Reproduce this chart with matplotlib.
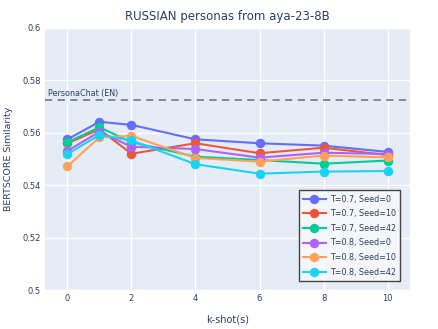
import matplotlib
matplotlib.use("Agg")
import matplotlib.pyplot as plt

k_shots = [0, 1, 2, 4, 6, 8, 10]
series_labels = ["T=0.7, Seed=0", "T=0.7, Seed=10", "T=0.7, Seed=42",
                 "T=0.8, Seed=0", "T=0.8, Seed=10", "T=0.8, Seed=42"]
t07_s0 = [0.5575, 0.5642, 0.5630, 0.5575, 0.5560, 0.5551, 0.5527]
t07_s10 = [0.5560, 0.5613, 0.5520, 0.5560, 0.5522, 0.5543, 0.5515]
t07_s42 = [0.5564, 0.5621, 0.5564, 0.5509, 0.5496, 0.5482, 0.5494]
t08_s0 = [0.5531, 0.5604, 0.5547, 0.5538, 0.5505, 0.5524, 0.5519]
t08_s10 = [0.5472, 0.5583, 0.5588, 0.5504, 0.5490, 0.5513, 0.5506]
t08_s42 = [0.5519, 0.5592, 0.5571, 0.5480, 0.5444, 0.5452, 0.5454]
baseline = 0.5725
baseline_label = "PersonaChat (EN)"
y_ticks = [0.5, 0.52, 0.54, 0.56, 0.58, 0.6]
y_tick_labels = ["0.5", "0.52", "0.54", "0.56", "0.58", "0.6"]
x_ticks = [0, 2, 4, 6, 8, 10]

colors = ["#636EFA", "#EF553B", "#00CC96", "#AB63FA", "#FFA15A", "#19D3F3"]
text_color = "#2a3f5f"

fig = plt.figure(figsize=(4.39, 3.29), dpi=100)
ax = fig.add_axes([0.1025, 0.1185, 0.8315, 0.7965])
ax.set_facecolor("#E5ECF6")
for s in ax.spines.values():
    s.set_visible(False)

ax.set_xlim(-0.7, 10.7)
ax.set_ylim(0.5, 0.6)
ax.set_xticks(x_ticks)
ax.set_yticks(y_ticks)
ax.set_yticklabels(y_tick_labels)
ax.grid(True, color="white", linewidth=1.0)
ax.set_axisbelow(True)
ax.tick_params(length=0, labelsize=6, colors=text_color, pad=3)

ax.axhline(baseline, color="#7f7f7f", linestyle=(0, (4, 3)), linewidth=1.3, zorder=1)
ax.text(-0.6, baseline + 0.0008, baseline_label, fontsize=5.8, color=text_color,
        va="bottom", ha="left")

all_series = [t07_s0, t07_s10, t07_s42, t08_s0, t08_s10, t08_s42]
for vals, lab, c in zip(all_series, series_labels, colors):
    ax.plot(k_shots, vals, color=c, linewidth=1.5, marker="o", markersize=5.8,
            label=lab, zorder=3)

leg = ax.legend(loc="lower right", bbox_to_anchor=(0.983, 0.02), fontsize=5.8,
                frameon=True, fancybox=False, borderpad=0.5, labelspacing=0.7,
                handlelength=2.8, handletextpad=0.5)
leg.get_frame().set_edgecolor("#444444")
leg.get_frame().set_linewidth(1.0)
leg.get_frame().set_facecolor("#F4F6FA")
leg.get_frame().set_alpha(1.0)
for t in leg.get_texts():
    t.set_color(text_color)

ax.set_title("RUSSIAN personas from aya-23-8B", fontsize=8.5, color=text_color, pad=6)
ax.set_xlabel("k-shot(s)", fontsize=7, color=text_color, labelpad=8)
ax.set_ylabel("BERTSCORE Similarity", fontsize=6.8, color=text_color, labelpad=7)

fig.savefig("out.png", dpi=100)
